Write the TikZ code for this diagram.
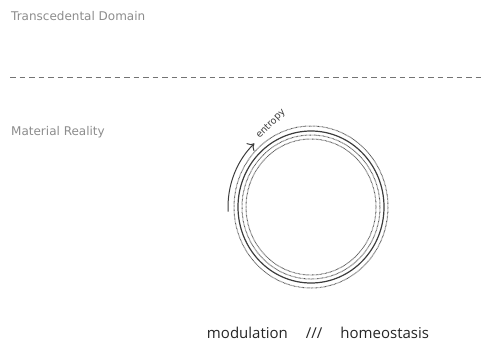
\documentclass[tikz,border=0pt]{standalone}
\usepackage{fontspec}
\setmainfont{DejaVu Sans}
\newfontfamily\titlefont{Open Sans}
\usetikzlibrary{arrows.meta}

\definecolor{labelgray}{RGB}{140,140,140}
\definecolor{ringgray}{RGB}{60,60,60}

\tikzset{
  realmlabel/.style={anchor=base west, inner sep=0pt, text=labelgray, font=\fontsize{12}{14}\selectfont},
  dottedring/.style={draw=ringgray!90, line width=1pt, dash pattern=on 0.6pt off 0.7pt},
  solidring/.style={draw=ringgray, line width=1.2pt}
}

\begin{document}
\begin{tikzpicture}[x=1pt,y=1pt,yscale=-1]
\useasboundingbox (0,0) rectangle (486,343);

% Domain labels
\node[realmlabel] (transcendent) at (11,20.5) {Transcedental Domain};
\node[realmlabel] (material) at (11,135.5) {Material Reality};

% Boundary between the two domains
\coordinate (bleft) at (10,77);
\coordinate (bright) at (484,77);
\draw[gray!90!black, line width=1pt, dash pattern=on 5.5pt off 4pt] (bleft) -- (bright);

% Rings
\coordinate (core) at (311,207);
\draw[dottedring] (core) ellipse [x radius=77, y radius=81];
\draw[solidring] (core) ellipse [x radius=73, y radius=76];
\draw[dottedring] (core) ellipse [x radius=69, y radius=72];
\draw[dottedring] (core) ellipse [x radius=65, y radius=68];

% Entropy arrow
\draw[ringgray, line width=1pt, -{To[length=6pt,width=11pt]}]
  ([shift={(177:83 and 87)}]core) arc [start angle=177, end angle=227, x radius=83, y radius=87];
\node[rotate=45, inner sep=0pt, text=ringgray, font=\fontsize{9.5}{11}\selectfont] (entropy) at (271,124) {entropy};

% Caption
\node[inner sep=0pt, anchor=base, font=\titlefont\fontsize{15}{17}\selectfont, text=black!85] (caption) at (318,338)
  {modulation\hspace{1.2em}///\hspace{1.2em}homeostasis};

\end{tikzpicture}
\end{document}
